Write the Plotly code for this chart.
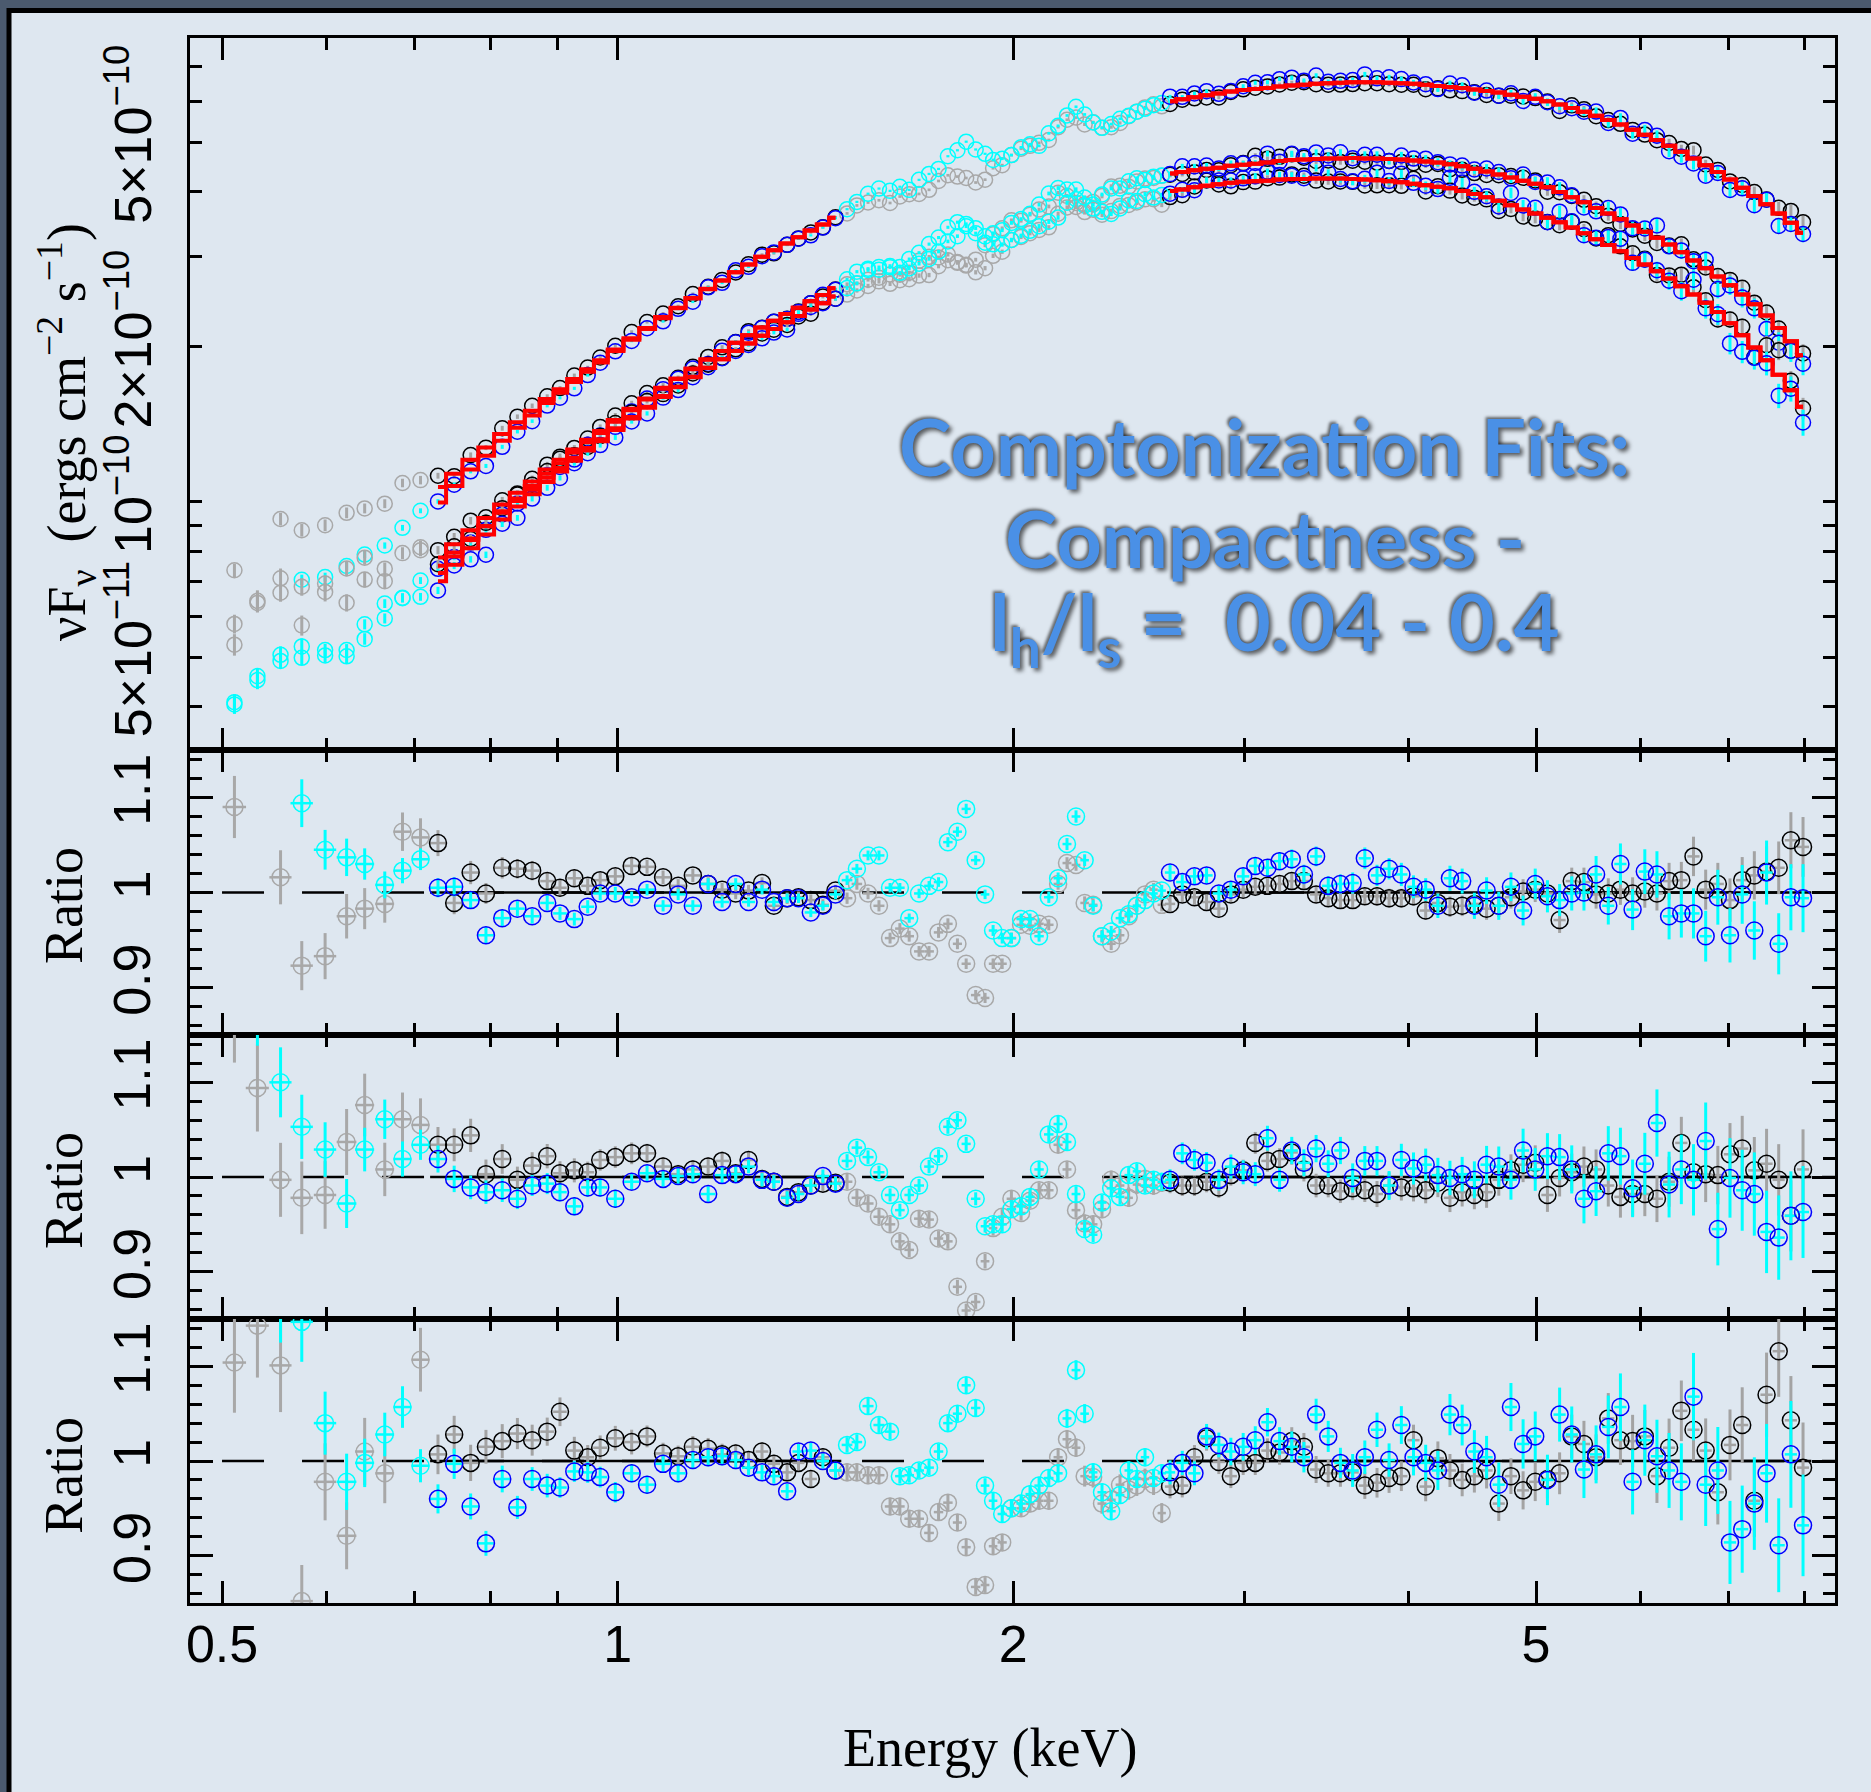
import numpy as np
import plotly.graph_objects as go
from plotly.subplots import make_subplots

# ===================== data =====================
# bin centre energies (keV), shared by the three observations and both detectors
energy_keV = [
    # 0.5 - 0.72 keV (ignored)
    0.511, 0.532, 0.554, 0.575, 0.599, 0.622, 0.642, 0.665, 0.686, 0.708,
    # 0.72 - 1.5 keV (fitted)
    0.730, 0.751, 0.773, 0.794, 0.817, 0.839, 0.861, 0.884, 0.904, 0.927,
    0.949, 0.970, 0.996, 1.025, 1.053, 1.083, 1.112, 1.141, 1.172, 1.201,
    1.230, 1.258, 1.288, 1.315, 1.346, 1.373, 1.403, 1.433, 1.465,
    # 1.5 - 2.6 keV (ignored)
    1.495, 1.521, 1.551, 1.581, 1.612, 1.640, 1.667, 1.696, 1.726, 1.755,
    1.784, 1.814, 1.842, 1.873, 1.904, 1.931, 1.962, 1.994, 2.028, 2.060,
    2.093, 2.129, 2.164, 2.198, 2.233, 2.267, 2.301, 2.337, 2.375, 2.412,
    2.449, 2.484, 2.520, 2.558, 2.595,
    # 2.6 - 8 keV (fitted)
    2.633, 2.690, 2.748, 2.807, 2.868, 2.929, 2.993, 3.057, 3.123, 3.190,
    3.259, 3.329, 3.401, 3.474, 3.549, 3.626, 3.704, 3.784, 3.865, 3.949,
    4.034, 4.121, 4.210, 4.300, 4.393, 4.488, 4.585, 4.684, 4.785, 4.888,
    4.993, 5.101, 5.211, 5.323, 5.438, 5.555, 5.675, 5.797, 5.922, 6.050,
    6.180, 6.313, 6.450, 6.589, 6.731, 6.876, 7.024, 7.176, 7.330, 7.489,
    7.650, 7.815, 7.983,
]
fit_ranges_keV = [(0.72, 1.48), (2.62, 8.10)]
band_start_keV = 0.5

# Comptonization model, log10(nu F_nu / ergs cm^-2 s^-1), detector 1 response
model_log_obs1 = [
    -10.17, -10.10, -10.04, -10.02, -10.015, -10.01, -10.005, -9.998, -9.99, -9.982,
    -9.971, -9.945, -9.918, -9.894, -9.868, -9.845, -9.823, -9.800, -9.781, -9.761,
    -9.742, -9.725, -9.704, -9.682, -9.662, -9.641, -9.623, -9.604, -9.586, -9.570,
    -9.554, -9.539, -9.524, -9.511, -9.498, -9.486, -9.473, -9.461, -9.448,
    -9.437, -9.428, -9.418, -9.408, -9.398, -9.390, -9.382, -9.374, -9.366, -9.358,
    -9.351, -9.344, -9.337, -9.330, -9.323, -9.318, -9.312, -9.305, -9.299, -9.293,
    -9.288, -9.282, -9.276, -9.271, -9.266, -9.262, -9.257, -9.253, -9.248, -9.244,
    -9.240, -9.236, -9.233, -9.229, -9.226,
    -9.222, -9.218, -9.214, -9.210, -9.207, -9.203, -9.200, -9.198, -9.196, -9.193,
    -9.191, -9.190, -9.188, -9.187, -9.186, -9.185, -9.185, -9.185, -9.186, -9.187,
    -9.188, -9.190, -9.192, -9.194, -9.196, -9.199, -9.202, -9.205, -9.209, -9.213,
    -9.217, -9.222, -9.228, -9.235, -9.242, -9.250, -9.258, -9.267, -9.277, -9.287,
    -9.297, -9.308, -9.320, -9.333, -9.346, -9.359, -9.374, -9.390, -9.406, -9.422,
    -9.440, -9.458, -9.477,
]
model_log_obs2 = [
    -10.305, -10.235, -10.175, -10.155, -10.150, -10.145, -10.140, -10.133, -10.125, -10.117,
    -10.108, -10.082, -10.055, -10.031, -10.005, -9.982, -9.960, -9.937, -9.918, -9.898,
    -9.879, -9.862, -9.841, -9.819, -9.799, -9.778, -9.760, -9.741, -9.723, -9.707,
    -9.691, -9.676, -9.661, -9.648, -9.635, -9.623, -9.610, -9.598, -9.585,
    -9.575, -9.566, -9.556, -9.546, -9.536, -9.528, -9.520, -9.512, -9.504, -9.496,
    -9.489, -9.482, -9.475, -9.468, -9.461, -9.456, -9.450, -9.443, -9.437, -9.431,
    -9.426, -9.420, -9.414, -9.409, -9.404, -9.400, -9.395, -9.391, -9.386, -9.382,
    -9.378, -9.374, -9.371, -9.367, -9.364,
    -9.362, -9.359, -9.356, -9.353, -9.351, -9.347, -9.345, -9.343, -9.341, -9.338,
    -9.336, -9.335, -9.334, -9.333, -9.333, -9.332, -9.333, -9.333, -9.334, -9.335,
    -9.337, -9.339, -9.341, -9.344, -9.348, -9.353, -9.358, -9.364, -9.370, -9.376,
    -9.382, -9.389, -9.398, -9.408, -9.418, -9.429, -9.440, -9.451, -9.463, -9.475,
    -9.487, -9.500, -9.515, -9.531, -9.546, -9.562, -9.579, -9.597, -9.616, -9.638,
    -9.662, -9.688, -9.715,
]
model_log_obs3 = [
    -10.320, -10.250, -10.190, -10.170, -10.165, -10.160, -10.155, -10.148, -10.140, -10.132,
    -10.124, -10.098, -10.071, -10.047, -10.021, -9.998, -9.976, -9.953, -9.934, -9.914,
    -9.895, -9.878, -9.857, -9.835, -9.815, -9.794, -9.776, -9.757, -9.739, -9.723,
    -9.707, -9.692, -9.677, -9.664, -9.651, -9.639, -9.626, -9.614, -9.601,
    -9.592, -9.584, -9.574, -9.565, -9.555, -9.548, -9.540, -9.533, -9.525, -9.518,
    -9.511, -9.505, -9.498, -9.492, -9.485, -9.481, -9.475, -9.469, -9.463, -9.458,
    -9.453, -9.448, -9.442, -9.438, -9.433, -9.430, -9.425, -9.422, -9.417, -9.414,
    -9.410, -9.407, -9.404, -9.401, -9.398,
    -9.396, -9.393, -9.389, -9.386, -9.383, -9.380, -9.378, -9.377, -9.376, -9.374,
    -9.373, -9.373, -9.372, -9.372, -9.372, -9.373, -9.374, -9.375, -9.377, -9.379,
    -9.382, -9.385, -9.388, -9.391, -9.396, -9.402, -9.408, -9.415, -9.424, -9.432,
    -9.440, -9.448, -9.457, -9.467, -9.478, -9.490, -9.501, -9.513, -9.526, -9.539,
    -9.552, -9.566, -9.581, -9.597, -9.613, -9.631, -9.653, -9.676, -9.700, -9.725,
    -9.753, -9.783, -9.815,
]
# detector 2 folded model lies lower at the softest energies (dex), zero above
det2_model_offset_dex = [
    0.17, 0.175, 0.175, 0.17, 0.15, 0.13, 0.11, 0.09, 0.07, 0.05,
    0.030, 0.024, 0.019, 0.016, 0.013, 0.011, 0.009, 0.008, 0.007, 0.006,
    0.005, 0.004, 0.003, 0.003, 0.002, 0.002, 0.001, 0.001, 0.001,
]

# data / model ratios (None = no point in the picture)
ratio_det1_obs1 = [
    1.090, None, 1.016, 0.923, 0.933, 0.975, 0.983, 0.988, 1.064, 1.058,
    1.052, 0.989, 1.021, 0.999, 1.026, 1.025, 1.023, 1.012, 1.005, 1.015,
    1.007, 1.013, 1.017, 1.028, 1.027, 1.016, 1.007, 1.018, 1.009, 1.003,
    0.999, 1.002, 1.010, 0.986, 0.994, 0.995, 0.992, 0.987, 1.002,
    0.994, 1.009, 0.999, 0.986, 0.952, 0.962, 0.954, 0.938, 0.938, 0.958,
    0.967, 0.946, 0.925, 0.892, 0.889, 0.925, 0.925, 0.952, 0.966, 0.965,
    0.967, 0.966, 1.009, 1.031, 1.029, 0.989, 0.987, 0.954, 0.946, 0.955,
    0.975, 0.986, 0.998, 1.003, 0.987,
    0.988, 0.998, 0.995, 0.990, 0.983, 0.998, 1.003, 1.006, 1.007, 1.009,
    1.012, 1.012, 0.998, 0.994, 0.992, 0.992, 0.996, 0.996, 0.994, 0.994,
    0.996, 0.981, 0.989, 0.985, 0.986, 0.988, 0.983, 0.986, 0.995, 1.001,
    1.003, 0.999, 0.971, 1.012, 1.011, 0.998, 0.999, 1.003, 0.999, 1.001,
    0.999, 1.012, 1.013, 1.038, 1.003, 1.009, 0.992, 1.013, 1.018, 1.022,
    1.026, 1.055, 1.048,
]
ratio_det2_obs1 = [
    None, None, None, 1.094, 1.045, 1.037, 1.030, 1.008, 1.023, 1.035,
    1.005, 1.006, 0.992, 0.955, 0.973, 0.983, 0.975, 0.989, 0.978, 0.972,
    0.985, 0.999, 0.999, 0.995, 1.003, 0.986, 0.998, 0.986, 1.009, 0.990,
    1.009, 0.990, 1.003, 0.990, 0.994, 0.994, 0.979, 0.986, 0.998,
    1.013, 1.025, 1.039, 1.039, 1.005, 1.005, 0.973, 0.999, 1.007, 1.011,
    1.053, 1.064, 1.088, 1.034, 0.998, 0.960, 0.952, 0.952, 0.972, 0.972,
    0.954, 0.995, 1.015, 1.051, 1.080, 1.034, 0.986, 0.954, 0.959, 0.973,
    0.977, 0.986, 0.992, 0.999, 1.002,
    1.021, 1.011, 1.017, 1.018, 0.999, 1.003, 1.017, 1.028, 1.026, 1.033,
    1.035, 1.019, 1.038, 1.007, 1.009, 1.010, 1.036, 1.018, 1.025, 1.019,
    1.006, 1.003, 0.986, 1.015, 1.012, 0.986, 1.002, 0.986, 1.006, 0.981,
    1.009, 0.996, 0.992, 0.999, 1.000, 1.019, 0.986, 1.030, 0.982, 1.022,
    1.019, 0.975, 0.978, 0.978, 0.954, 0.995, 0.955, 0.998, 0.960, 1.021,
    0.946, 0.995, 0.994,
]
ratio_det1_obs2 = [
    1.170, 1.094, 0.997, 0.978, 0.981, 1.037, 1.076, 1.008, 1.061, 1.055,
    1.034, 1.034, 1.044, 1.003, 1.019, 0.997, 1.012, 1.022, 1.004, 1.007,
    1.005, 1.018, 1.021, 1.025, 1.025, 1.011, 1.003, 1.008, 1.011, 1.017,
    1.004, 1.018, 0.998, 0.995, 0.979, 0.984, 0.991, 0.993, 0.994,
    0.995, 0.978, 0.972, 0.958, 0.950, 0.932, 0.923, 0.956, 0.955, 0.935,
    0.932, 0.884, 0.859, 0.868, 0.911, 0.946, 0.958, 0.977, 0.962, 0.975,
    0.986, 0.986, 1.034, 1.008, 0.965, 0.951, 0.950, 0.966, 0.997, 0.991,
    0.978, 0.992, 0.998, 0.991, 0.994,
    0.994, 0.991, 0.991, 0.995, 0.989, 1.002, 1.007, 1.036, 1.017, 1.019,
    1.026, 1.008, 0.991, 0.991, 0.985, 0.988, 0.986, 0.982, 0.991, 0.989,
    0.988, 0.986, 0.994, 0.978, 0.984, 0.981, 0.984, 0.997, 1.007, 1.013,
    1.015, 0.981, 0.999, 1.005, 1.011, 1.008, 0.991, 0.979, 0.982, 0.982,
    0.977, 0.995, 1.036, 1.005, 1.003, 1.002, 1.024, 1.030, 1.007, 1.014,
    0.997, 0.959, 1.008,
]
ratio_det2_obs2 = [
    1.22, 1.18, 1.100, 1.053, 1.029, 0.972, 1.029, 1.061, 1.019, 1.034,
    1.019, 0.998, 0.989, 0.984, 0.986, 0.977, 0.991, 0.993, 0.984, 0.969,
    0.989, 0.989, 0.977, 0.995, 1.004, 0.998, 1.001, 1.003, 0.982, 1.002,
    1.003, 1.011, 0.997, 0.995, 0.978, 0.982, 0.991, 1.001, 0.993,
    1.017, 1.031, 1.021, 1.005, 0.981, 0.965, 0.981, 0.991, 1.011, 1.022,
    1.053, 1.060, 1.035, 0.977, 0.948, 0.950, 0.950, 0.966, 0.969, 0.979,
    1.008, 1.045, 1.056, 1.037, 0.982, 0.945, 0.939, 0.973, 0.988, 0.979,
    1.002, 1.006, 0.991, 0.997, 0.995,
    0.997, 1.025, 1.018, 1.015, 0.997, 1.011, 1.005, 1.003, 1.041, 0.997,
    1.028, 1.015, 1.030, 1.014, 1.028, 0.999, 1.017, 1.017, 0.991, 1.018,
    1.009, 1.013, 1.002, 0.999, 1.003, 0.997, 1.013, 1.011, 0.997, 1.028,
    1.008, 1.022, 1.021, 1.008, 0.977, 0.985, 1.025, 1.022, 0.988, 1.014,
    1.057, 0.992, 1.008, 0.997, 1.038, 0.945, 0.999, 0.986, 0.982, 0.942,
    0.936, 0.959, 0.963,
]
ratio_det1_obs3 = [
    1.104, 1.143, 1.101, 0.852, 0.978, 0.921, 1.010, 0.987, None, 1.107,
    1.007, 1.028, 0.998, 1.015, 1.021, 1.029, 1.022, 1.031, 1.052, 1.011,
    1.004, 1.014, 1.024, 1.020, 1.026, 1.008, 1.005, 1.015, 1.013, 1.007,
    1.008, 1.001, 1.010, 0.997, 0.988, 0.998, 0.981, 1.004, 0.990,
    0.988, 0.988, 0.985, 0.985, 0.952, 0.952, 0.939, 0.939, 0.924, 0.946,
    0.956, 0.935, 0.909, 0.867, 0.869, 0.910, 0.914, 0.950, 0.950, 0.955,
    0.958, 0.958, 1.004, 1.023, 1.014, 0.984, 0.983, 0.955, 0.959, 0.975,
    0.970, 0.974, 0.981, 0.975, 0.945,
    0.973, 0.974, 1.004, 1.024, 0.999, 0.984, 0.998, 0.998, 1.011, 1.009,
    1.021, 1.015, 0.991, 0.987, 0.987, 0.988, 0.974, 0.977, 0.982, 0.984,
    1.022, 0.973, 1.003, 0.990, 0.980, 0.984, 0.990, 0.955, 0.984, 0.969,
    0.978, 0.981, 0.987, 1.026, 1.018, 1.004, 1.045, 1.022, 1.021, 1.026,
    0.984, 1.014, 1.053, 1.033, 1.011, 0.967, 1.017, 1.038, 0.958, 1.070,
    1.116, 1.043, 0.993,
]
ratio_det2_obs3 = [
    1.25, 1.20, 1.17, 1.147, 1.040, 0.978, 0.998, 1.028, 1.057, 0.995,
    0.960, 0.997, 0.952, 0.913, 0.981, 0.951, 0.981, 0.974, 0.972, 0.989,
    0.988, 0.983, 0.967, 0.987, 0.975, 0.997, 0.987, 1.001, 1.004, 1.005,
    1.001, 0.993, 0.988, 0.984, 0.968, 1.010, 1.011, 1.000, 0.990,
    1.017, 1.020, 1.058, 1.038, 1.031, 0.984, 0.985, 0.990, 0.993, 1.010,
    1.040, 1.050, 1.080, 1.056, 0.974, 0.958, 0.944, 0.950, 0.955, 0.965,
    0.974, 0.982, 0.987, 1.045, 1.096, 1.050, 0.988, 0.967, 0.947, 0.964,
    0.990, 0.981, 1.004, 0.982, 0.987,
    0.988, 0.998, 0.987, 1.026, 1.017, 1.010, 1.015, 1.022, 1.041, 1.021,
    1.015, 1.004, 1.049, 1.026, 0.998, 0.990, 1.004, 1.033, 1.001, 1.038,
    1.004, 0.998, 0.990, 1.049, 1.038, 1.010, 1.004, 0.975, 1.057, 1.018,
    1.026, 0.980, 1.049, 1.028, 0.991, 1.007, 1.036, 1.057, 0.978, 1.022,
    1.005, 0.990, 0.978, 1.068, 0.975, 0.990, 0.914, 0.928, 0.955, 0.987,
    0.911, 1.007, 0.932,
]

# fractional 1-sigma errors per bin for each detector, and a per-observation scale
relerr_det1 = [
    0.030, 0.030, 0.028, 0.028, 0.026, 0.024, 0.022, 0.020, 0.019, 0.019,
    0.013, 0.012, 0.012, 0.011, 0.011, 0.010, 0.010, 0.009, 0.009, 0.009,
    0.008, 0.008, 0.008, 0.008, 0.007, 0.007, 0.007, 0.007, 0.007, 0.007,
    0.006, 0.006, 0.006, 0.006, 0.006, 0.006, 0.006, 0.006, 0.006,
    0.006, 0.006, 0.006, 0.006, 0.006, 0.006, 0.006, 0.006, 0.006, 0.006,
    0.006, 0.006, 0.006, 0.006, 0.006, 0.006, 0.006, 0.006, 0.006, 0.006,
    0.006, 0.006, 0.006, 0.006, 0.006, 0.007, 0.007, 0.007, 0.007, 0.007,
    0.007, 0.007, 0.007, 0.007, 0.007,
    0.008, 0.008, 0.008, 0.008, 0.008, 0.008, 0.008, 0.008, 0.008, 0.008,
    0.009, 0.009, 0.009, 0.009, 0.009, 0.009, 0.009, 0.010, 0.010, 0.010,
    0.010, 0.010, 0.011, 0.011, 0.011, 0.011, 0.012, 0.012, 0.012, 0.013,
    0.013, 0.013, 0.014, 0.014, 0.015, 0.015, 0.016, 0.016, 0.017, 0.017,
    0.018, 0.019, 0.019, 0.020, 0.021, 0.022, 0.023, 0.024, 0.025, 0.026,
    0.027, 0.028, 0.030,
]
relerr_det2 = [
    0.026, 0.025, 0.024, 0.023, 0.020, 0.019, 0.016, 0.014, 0.013, 0.011,
    0.010, 0.010, 0.009, 0.009, 0.009, 0.008, 0.008, 0.008, 0.007, 0.007,
    0.007, 0.007, 0.007, 0.006, 0.006, 0.006, 0.006, 0.006, 0.006, 0.006,
    0.006, 0.005, 0.005, 0.005, 0.005, 0.005, 0.005, 0.005, 0.005,
    0.005, 0.005, 0.005, 0.005, 0.005, 0.005, 0.005, 0.005, 0.005, 0.005,
    0.005, 0.005, 0.005, 0.005, 0.005, 0.006, 0.006, 0.006, 0.006, 0.006,
    0.006, 0.006, 0.006, 0.006, 0.006, 0.006, 0.006, 0.006, 0.006, 0.006,
    0.006, 0.006, 0.006, 0.006, 0.006,
    0.008, 0.008, 0.008, 0.008, 0.008, 0.009, 0.009, 0.009, 0.009, 0.009,
    0.010, 0.010, 0.010, 0.010, 0.010, 0.011, 0.011, 0.011, 0.011, 0.012,
    0.012, 0.012, 0.013, 0.013, 0.013, 0.014, 0.014, 0.015, 0.015, 0.016,
    0.016, 0.017, 0.017, 0.018, 0.019, 0.019, 0.020, 0.021, 0.022, 0.023,
    0.024, 0.025, 0.026, 0.027, 0.028, 0.029, 0.030, 0.031, 0.032, 0.033,
    0.034, 0.035, 0.036,
]
err_scale_obs = [1.0, 1.4, 1.6]

# axis ticks
x_tick_vals = [0.5, 1, 2, 5]
x_tick_text = ["0.5", "1", "2", "5"]
x_minor_vals = [0.6, 0.7, 0.8, 0.9, 3, 4, 6, 7, 8]
y_top_tick_vals = [5e-11, 1e-10, 2e-10, 5e-10]
y_top_tick_text = ["5×10<sup>−11</sup>", "10<sup>−10</sup>", "2×10<sup>−10</sup>", "5×10<sup>−10</sup>"]
y_top_minor_vals = [4e-11, 6e-11, 7e-11, 8e-11, 9e-11, 3e-10, 4e-10, 6e-10, 7e-10]
ratio_tick_vals = [0.9, 1.0, 1.1]
ratio_tick_text = ["0.9", "1", "1.1"]
ratio_minor_vals = [0.86, 0.88, 0.92, 0.94, 0.96, 0.98, 1.02, 1.04, 1.06, 1.08, 1.12, 1.14]

x_range_log = [-0.3254, 0.9265]
y_top_range_log = [-10.4816, -9.0990]
ratio_range = [0.85, 1.15]

# ===================== build figure =====================
W, H = 1871, 1792
ML, MR, MT, MB = 190, 36, 38, 189
PW, PH = W - ML - MR, H - MT - MB

E = np.array(energy_keV, dtype=float)
N = len(E)
all_lists = {
    "m1": model_log_obs1, "m2": model_log_obs2, "m3": model_log_obs3,
    "r11": ratio_det1_obs1, "r21": ratio_det2_obs1, "r12": ratio_det1_obs2,
    "r22": ratio_det2_obs2, "r13": ratio_det1_obs3, "r23": ratio_det2_obs3,
    "e1": relerr_det1, "e2": relerr_det2,
}
bad = {k: len(v) for k, v in all_lists.items() if len(v) != N}
if bad:
    raise SystemExit(f"length mismatch N={N}: {bad}")


def arr(lst):
    return np.array([np.nan if v is None else v for v in lst], dtype=float)


fit = np.zeros(N, dtype=bool)
for lo, hi in fit_ranges_keV:
    fit |= (E >= lo) & (E <= hi)
ign = ~fit
half_bin = np.gradient(E) / 2.0

off2 = np.zeros(N)
off2[:len(det2_model_offset_dex)] = det2_model_offset_dex
det_offsets = [np.zeros(N), off2]
models = [model_log_obs1, model_log_obs2, model_log_obs3]
ratios = [[ratio_det1_obs1, ratio_det2_obs1],
          [ratio_det1_obs2, ratio_det2_obs2],
          [ratio_det1_obs3, ratio_det2_obs3]]
relerrs = [relerr_det1, relerr_det2]

FIT_COL = ["#000000", "#0000ff"]
FIT_ERR = ["#a3a3a3", "#00ffff"]
IGN_COL = ["#a8a8a8", "#00ffff"]
IGN_ERR = ["#a8a8a8", "#00ffff"]

fig = make_subplots(rows=4, cols=1, shared_xaxes=True, vertical_spacing=0.0,
                    row_heights=[712, 285, 284, 284])

# solid unity line across the fitted bands in the ratio panels
for row in (2, 3, 4):
    for lo, hi in fit_ranges_keV:
        fig.add_trace(go.Scatter(x=[lo, min(hi, 10 ** x_range_log[1])], y=[1, 1], mode="lines",
                                 line=dict(color="black", width=2.5), hoverinfo="skip"),
                      row=row, col=1)

red_traces = []
for i in range(3):
    for d in range(2):
        mlog = arr(models[i]) - det_offsets[d]
        r = arr(ratios[i][d])
        flux = 10 ** mlog * r
        rel = arr(relerrs[d]) * err_scale_obs[i]
        for mask, col, ecol in ((ign, IGN_COL[d], IGN_ERR[d]), (fit, FIT_COL[d], FIT_ERR[d])):
            fig.add_trace(go.Scatter(
                x=E[mask], y=flux[mask], mode="markers",
                marker=dict(symbol="circle-open", size=15, color=col, line=dict(width=1.5, color=col)),
                error_y=dict(type="data", array=(flux * rel)[mask], color=ecol, thickness=3, width=0),
            ), row=1, col=1)
            fig.add_trace(go.Scatter(
                x=E[mask], y=r[mask], mode="markers",
                marker=dict(symbol="circle-open", size=17, color=col, line=dict(width=1.5, color=col)),
                error_y=dict(type="data", array=(r * rel)[mask], color=ecol, thickness=3, width=0),
                error_x=dict(type="data", array=half_bin[mask], color=ecol, thickness=2.5, width=0),
            ), row=i + 2, col=1)
        red_traces.append(go.Scatter(
            x=E, y=np.where(fit, 10 ** mlog, np.nan), mode="lines", connectgaps=False,
            line=dict(color="#ff0000", width=4, shape="hvh"), hoverinfo="skip"))

for tr in red_traces:
    fig.add_trace(tr, row=1, col=1)

TICKFONT = dict(family="Liberation Sans, Arial, sans-serif", size=52, color="black")
for k in range(1, 5):
    fig.update_layout(**{f"xaxis{'' if k == 1 else k}": dict(
        type="log", range=x_range_log, showline=True, linewidth=3, linecolor="black",
        mirror="allticks", ticks="inside", ticklen=22, tickwidth=3, tickcolor="black",
        tickmode="array", tickvals=x_tick_vals, ticktext=x_tick_text,
        showgrid=False, zeroline=False, tickfont=TICKFONT, showticklabels=(k == 4),
        ticklabelstandoff=-6,
        minor=dict(tickmode="array", tickvals=x_minor_vals, ticks="inside", ticklen=12,
                   tickwidth=3, tickcolor="black", showgrid=False),
    )})

fig.update_layout(yaxis=dict(
    type="log", range=y_top_range_log, showline=True, linewidth=3, linecolor="black",
    mirror="allticks", ticks="inside", ticklen=12, tickwidth=3, tickcolor="black",
    tickmode="array", tickvals=y_top_tick_vals, ticktext=y_top_tick_text, tickangle=-90,
    showgrid=False, zeroline=False, tickfont=TICKFONT, ticklabelstandoff=15,
    minor=dict(tickmode="array", tickvals=y_top_minor_vals, ticks="inside", ticklen=12,
               tickwidth=3, tickcolor="black", showgrid=False),
))
for k in (2, 3, 4):
    fig.update_layout(**{f"yaxis{k}": dict(
        range=ratio_range, showline=True, linewidth=3, linecolor="black",
        mirror="allticks", ticks="inside", ticklen=23, tickwidth=3, tickcolor="black",
        tickmode="array", tickvals=ratio_tick_vals, ticktext=ratio_tick_text, tickangle=-90,
        showgrid=False, zeroline=False, tickfont=TICKFONT, ticklabelstandoff=16,
        minor=dict(tickmode="array", tickvals=ratio_minor_vals, ticks="inside", ticklen=12,
                   tickwidth=3, tickcolor="black", showgrid=False),
    )})


def px_x(px):
    return (px - ML) / PW


def px_y(py):
    return (MT + PH - py) / PH


shapes = [dict(type="rect", xref="paper", yref="paper",
               x0=px_x(9), x1=px_x(W + 20), y0=px_y(H + 20), y1=px_y(10.5),
               fillcolor="#dee7f0", line=dict(color="black", width=5), layer="below")]
start_frac = (np.log10(band_start_keV) - x_range_log[0]) / (x_range_log[1] - x_range_log[0])
for k in (2, 3, 4):
    shapes.append(dict(type="line", xref=f"x{k} domain", yref=f"y{k}",
                       x0=start_frac, x1=1, y0=1, y1=1, layer="below",
                       line=dict(color="black", width=2.5, dash="42px,38px")))

SERIF = dict(family="Liberation Serif, Times New Roman, serif", size=54, color="black")
annotations = [
    dict(text="νF<sub>ν</sub>  (ergs cm<sup>−2</sup> s<sup>−1</sup>)", textangle=-90,
         xref="paper", yref="paper", x=px_x(66), y=px_y(432), xanchor="center", yanchor="middle",
         showarrow=False, font=SERIF),
    dict(text="Energy (keV)", xref="paper", yref="paper", x=px_x(990), y=px_y(1748),
         xanchor="center", yanchor="middle", showarrow=False, font=SERIF),
]
for yc in (906, 1191, 1476):
    annotations.append(dict(text="Ratio", textangle=-90, xref="paper", yref="paper",
                            x=px_x(64), y=px_y(yc), xanchor="center", yanchor="middle",
                            showarrow=False, font=SERIF))

BLUE = dict(family="Lato, Open Sans, sans-serif", size=79, color="#4a90e6", weight="bold",
            shadow="-2px -2px 3px rgba(0,0,0,0.55), 3px 3px 4px rgba(0,0,0,0.6)")
for txt, xc, yc in (("Comptonization Fits:", 1264, 446),
                    ("Compactness -", 1265, 537),
                    ("l<sub>h</sub>/l<sub>s</sub> =  0.04 - 0.4", 1275, 627)):
    annotations.append(dict(text=txt, xref="paper", yref="paper", x=px_x(xc), y=px_y(yc),
                            xanchor="center", yanchor="middle", showarrow=False, font=BLUE))

fig.update_layout(
    width=W, height=H, margin=dict(l=ML, r=MR, t=MT, b=MB, pad=0),
    paper_bgcolor="#4b5a6e", plot_bgcolor="rgba(0,0,0,0)",
    showlegend=False, shapes=shapes, annotations=annotations,
)

fig.write_html("out.html")
